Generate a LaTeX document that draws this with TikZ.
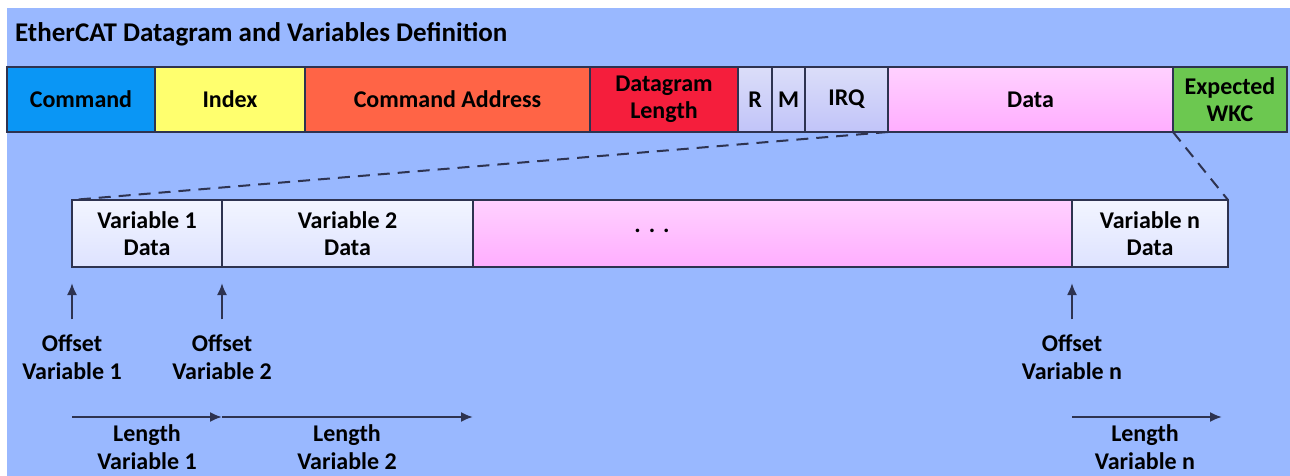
\documentclass[tikz,border=0pt]{standalone}
\usepackage{fontspec}
\setmainfont{Carlito}
\usetikzlibrary{arrows.meta}

\definecolor{bgblue}{HTML}{99B8FF}
\definecolor{cmdblue}{HTML}{0A96F5}
\definecolor{idxyellow}{HTML}{FFFF6E}
\definecolor{addrorange}{HTML}{FF6446}
\definecolor{lenred}{HTML}{F51E3C}
\definecolor{ctllav}{HTML}{D2D5F8}
\definecolor{wkcgreen}{HTML}{6CC850}
\definecolor{lineink}{HTML}{2E3350}

\begin{document}
\begin{tikzpicture}[x=1pt,y=-1pt,
  cell/.style={draw=lineink,line width=1.6pt,anchor=north west,inner sep=0pt,outer sep=0pt,
    minimum height=65pt,align=center,font=\fontsize{24}{27}\selectfont\bfseries},
  var/.style={cell,minimum height=67pt,top color=blue!2!white!92!bgblue,bottom color=blue!8!white!84!bgblue},
  ctl/.style={cell,top color=ctllav!80!white,bottom color=ctllav!92!blue},
  pinkcell/.style={top color=magenta!18!white,bottom color=magenta!32!white},
  lbl/.style={align=center,inner sep=0pt,font=\fontsize{24}{28}\selectfont\bfseries},
  arr/.style={line width=2pt,draw=lineink,-{Latex[length=12pt,width=10pt]}}]
\useasboundingbox (0,0) rectangle (1290,476);
\fill[bgblue] (7,8) rectangle (1290,476);

% title
\node[anchor=west,inner sep=0pt,font=\fontsize{27}{30}\selectfont\bfseries] (title) at (15,34) {EtherCAT Datagram and Variables Definition};

% datagram fields
\node[cell,fill=cmdblue,minimum width=148pt] (cmd) at (7,67) {Command};
\node[cell,fill=idxyellow,minimum width=150pt] (idx) at (155,67) {Index};
\node[cell,fill=addrorange,minimum width=285pt] (addr) at (305,67) {Command Address};
\node[cell,fill=lenred,minimum width=148pt] (len) at (590,67) {Datagram\\Length};
\node[ctl,minimum width=34pt] (r) at (738,67) {R};
\node[ctl,minimum width=33pt] (m) at (772,67) {M};
\node[ctl,minimum width=83pt] (irq) at (805,67) {IRQ};
\node[cell,pinkcell,minimum width=285pt] (data) at (888,67) {Data};
\node[cell,fill=wkcgreen,minimum width=114pt] (wkc) at (1173,67) {Expected\\WKC};

% variables
\node[var,minimum width=150pt] (v1) at (72,200) {Variable 1\\Data};
\node[var,minimum width=251pt] (v2) at (222,200) {Variable 2\\Data};
\node[cell,pinkcell,minimum height=67pt,minimum width=599pt] (gap) at (473,200) {};
\node[lbl] (ell) at (652,231) {.\,\,.\,\,.};
\node[var,minimum width=156pt] (vn) at (1072,200) {Variable n\\Data};

\draw[lineink,line width=2pt,dash pattern=on 12pt off 8pt] (data.south west) -- (v1.north west);
\draw[lineink,line width=2pt,dash pattern=on 12pt off 8pt] (data.south east) -- (vn.north east);

% offsets
\node[lbl] (off1) at (72,357) {Offset\\Variable 1};
\node[lbl] (off2) at (222,357) {Offset\\Variable 2};
\node[lbl] (offn) at (1072,357) {Offset\\Variable n};
\draw[arr,shorten >=16pt] ([yshift=15pt]off1.north) -- (v1.south west);
\draw[arr,shorten >=16pt] ([yshift=15pt]off2.north) -- (v2.south west);
\draw[arr,shorten >=16pt] ([yshift=15pt]offn.north) -- (vn.south west);

% lengths
\coordinate (l1a) at (72,417);
\coordinate (l1b) at (222,417);
\coordinate (l2b) at (473,417);
\coordinate (lna) at (1072,417);
\coordinate (lnb) at (1222,417);
\draw[arr] (l1a) -- (l1b);
\draw[arr] (l1b) -- (l2b);
\draw[arr] (lna) -- (lnb);
\node[lbl] (len1) at (147,447) {Length\\Variable 1};
\node[lbl] (len2) at (347,447) {Length\\Variable 2};
\node[lbl] (lenn) at (1145,447) {Length\\Variable n};
\end{tikzpicture}
\end{document}
